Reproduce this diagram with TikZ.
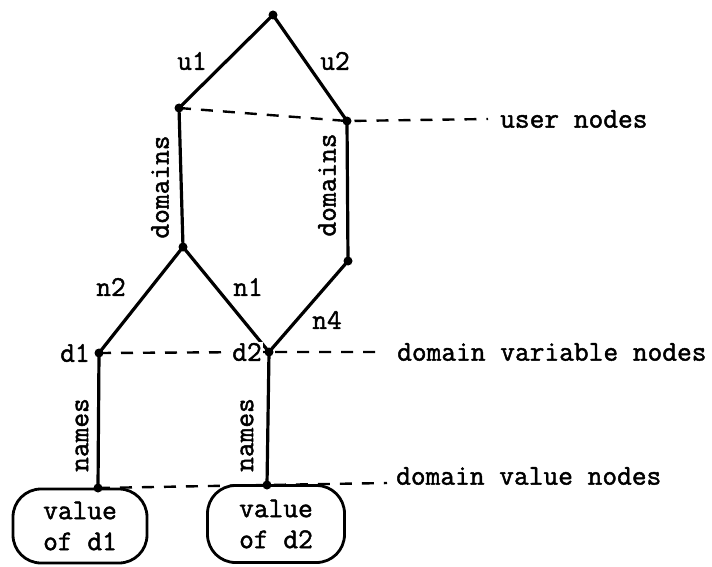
\documentclass[tikz,border=0pt]{standalone}
\usepackage{fontspec}
\newfontfamily\typew[FakeBold=1.6]{Latin Modern Mono}
\begin{document}
\begin{tikzpicture}[x=1pt,y=-1pt,
  edge/.style={line width=3.2pt, line cap=round},
  guide/.style={line width=2.4pt, dash pattern=on 12pt off 10pt},
  dot/.style={circle, fill=black, inner sep=0pt, minimum size=9pt},
  tt/.style={font=\typew\fontsize{28.6}{31}\selectfont},
  lbl/.style={tt, inner sep=0pt},
  valbox/.style={tt, draw, line width=2.8pt, rounded corners=28pt, minimum width=134pt,
    minimum height=74pt, align=center, inner sep=0pt}
]
\useasboundingbox (0,0) rectangle (712,567);

% tree nodes
\node[dot] (root) at (273,15) {};
\node[dot] (ua) at (179,108) {};
\node[dot] (ub) at (347,121) {};
\node[dot] (m)  at (183,247) {};
\node[dot] (r)  at (348,261) {};
\node[dot] (d1) at (99,353) {};
\node[dot] (d2) at (269,352) {};
\node[dot] (v1) at (98,488) {};
\node[dot] (v2) at (267,485) {};

% value boxes
\node[valbox] (b1) at (80,526) {value\\of d1};
\node[valbox, minimum width=137pt, minimum height=77pt] (b2) at (276,524) {value\\of d2};

% guide line ends
\coordinate (ue) at (488,119);
\coordinate (de) at (378,352);
\coordinate (ve) at (387,483);

% solid edges
\draw[edge] (root.center) -- (ua.center);
\draw[edge] (root.center) -- (ub.center);
\draw[edge] (ua.center) -- (m.center);
\draw[edge] (ub.center) -- (r.center);
\draw[edge] (m.center) -- (d1.center);
\draw[edge] (m.center) -- (d2.center);
\draw[edge] (r.center) -- (d2.center);
\draw[edge] (d1.center) -- (v1.center);
\draw[edge] (d2.center) -- (v2.center);

% dashed level lines
\draw[guide] (ua.center) -- (ub.center) -- (ue);
\draw[guide] (d1.center) -- (d2.center) -- (de);
\draw[guide] (v1.center) -- (v2.center) -- (ve);

% edge labels
\node[lbl] (lu1) at (192,61) {u1};
\node[lbl] (lu2) at (335,61) {u2};
\node[lbl, rotate=90] (ldl) at (160,187) {domains};
\node[lbl, rotate=90] (ldr) at (327,185) {domains};
\node[lbl] (ln2) at (111,287) {n2};
\node[lbl] (ln1) at (248,287) {n1};
\node[lbl] (ln4) at (327,320) {n4};
\node[lbl, fill=white, inner sep=1.5pt] (ld1) at (75,353) {d1};
\node[lbl, fill=white, inner sep=1.5pt] (ld2) at (247,352) {d2};
\node[lbl, rotate=90] (lnl) at (82,435) {names};
\node[lbl, rotate=90] (lnr) at (247,435) {names};

% level captions
\node[lbl, anchor=west] (cu) at (500,119) {user nodes};
\node[lbl, anchor=west] (cd) at (397,352) {domain variable nodes};
\node[lbl, anchor=west] (cv) at (396,476) {domain value nodes};
\end{tikzpicture}
\end{document}
